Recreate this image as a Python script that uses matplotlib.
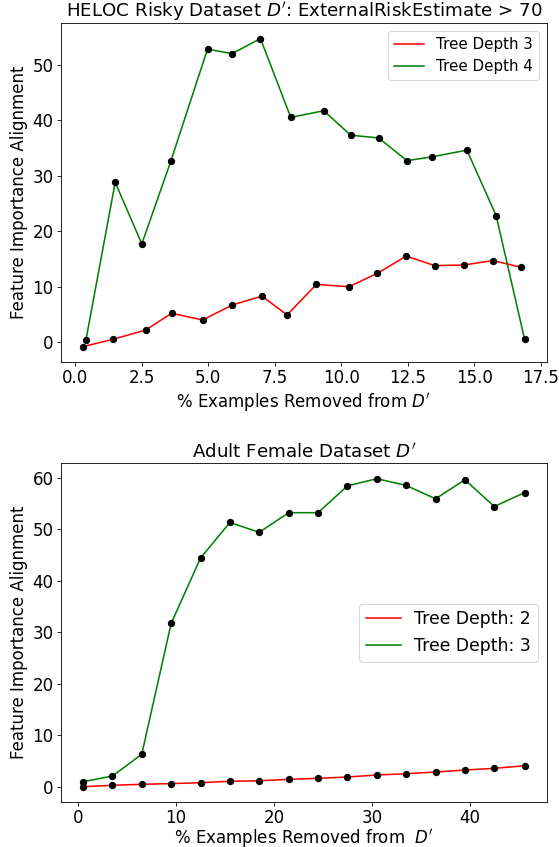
import matplotlib
matplotlib.use("Agg")
import matplotlib.pyplot as plt

# HELOC risky subset
heloc_x_d3 = [0.29, 1.41, 2.65, 3.62, 4.79, 5.90, 7.02, 7.96, 9.06, 10.29, 11.35, 12.44, 13.51, 14.60, 15.69, 16.77]
heloc_y_d3 = [-0.8, 0.5, 2.2, 5.2, 4.0, 6.7, 8.3, 4.9, 10.4, 10.0, 12.4, 15.5, 13.8, 13.9, 14.7, 13.5]
heloc_x_d4 = [0.40, 1.50, 2.50, 3.59, 4.97, 5.89, 6.96, 8.10, 9.34, 10.35, 11.40, 12.47, 13.41, 14.72, 15.82, 16.89]
heloc_y_d4 = [0.4, 28.8, 17.7, 32.6, 52.8, 52.0, 54.7, 40.5, 41.7, 37.3, 36.8, 32.7, 33.4, 34.6, 22.8, 0.5]

# Adult female subset
adult_x = [0.5, 3.5, 6.5, 9.5, 12.5, 15.5, 18.5, 21.5, 24.5, 27.5, 30.5, 33.5, 36.5, 39.5, 42.5, 45.6]
adult_y_d2 = [0.0, 0.27, 0.47, 0.6, 0.78, 1.05, 1.16, 1.43, 1.63, 1.88, 2.27, 2.52, 2.85, 3.24, 3.57, 4.07]
adult_y_d3 = [0.97, 2.07, 6.3, 31.7, 44.4, 51.3, 49.4, 53.2, 53.2, 58.4, 59.8, 58.5, 55.9, 59.6, 54.4, 57.1]

DPI = 75
TICK_FS = 16
LABEL_FS = 16
TITLE_FS = 17.5

fig = plt.figure(figsize=(559 / DPI, 847 / DPI), dpi=DPI)
ax1 = fig.add_axes([0.109, 0.5726, 0.869, 0.400])
ax2 = fig.add_axes([0.109, 0.053, 0.869, 0.400])

# top panel
ax1.plot(heloc_x_d3, heloc_y_d3, color="red", label="Tree Depth 3")
ax1.plot(heloc_x_d4, heloc_y_d4, color="green", label="Tree Depth 4")
ax1.scatter(heloc_x_d3, heloc_y_d3, color="black", zorder=3)
ax1.scatter(heloc_x_d4, heloc_y_d4, color="black", zorder=3)
ax1.set_xticks([0.0, 2.5, 5.0, 7.5, 10.0, 12.5, 15.0, 17.5])
ax1.set_title("HELOC Risky Dataset $D'$: ExternalRiskEstimate > 70", fontsize=TITLE_FS)
ax1.set_xlabel("% Examples Removed from $D'$", fontsize=LABEL_FS)
ax1.set_ylabel("Feature Importance Alignment", fontsize=LABEL_FS)
ax1.tick_params(labelsize=TICK_FS)
ax1.legend(loc="upper right", fontsize=14.5)

# bottom panel
ax2.plot(adult_x, adult_y_d2, color="red", label="Tree Depth: 2")
ax2.plot(adult_x, adult_y_d3, color="green", label="Tree Depth: 3")
ax2.scatter(adult_x, adult_y_d2, color="black", zorder=3)
ax2.scatter(adult_x, adult_y_d3, color="black", zorder=3)
ax2.set_title("Adult Female Dataset $D'$", fontsize=TITLE_FS)
ax2.set_xlabel("% Examples Removed from  $D'$", fontsize=LABEL_FS, labelpad=0)
ax2.set_ylabel("Feature Importance Alignment", fontsize=LABEL_FS)
ax2.tick_params(labelsize=TICK_FS)
ax2.legend(loc="center right", fontsize=16.5)

fig.savefig("out.png", dpi=DPI)
